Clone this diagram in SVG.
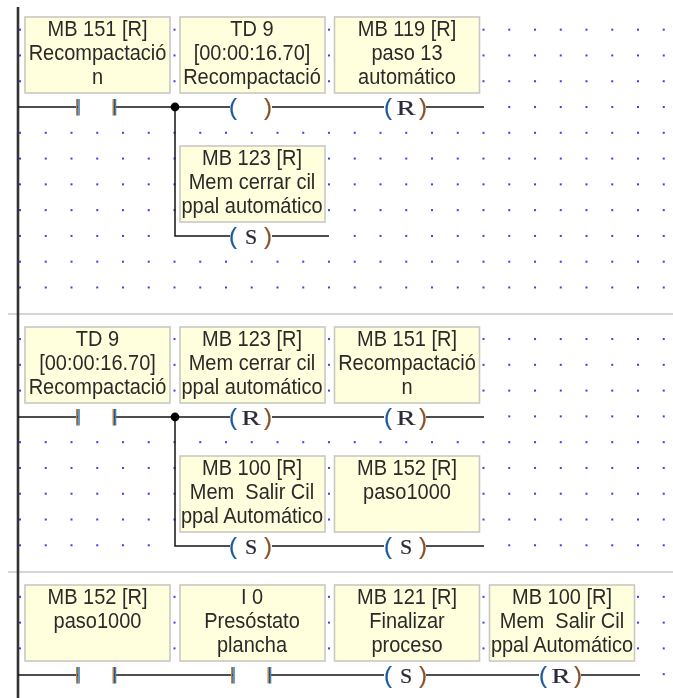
<svg xmlns="http://www.w3.org/2000/svg" width="673" height="698" viewBox="0 0 673 698">
<style>
.box{fill:#ffffdd;stroke:#c8c8c4;stroke-width:1.6}
.t{font-family:"Liberation Sans",Arial,sans-serif;font-size:21.5px;fill:#2a2a2a;text-anchor:middle;filter:url(#soft)}
.w{stroke:#151515;stroke-width:1.5;fill:none}
.c{font-family:"Liberation Serif",serif;font-size:22px;fill:#2a2a3a;stroke:#2a2a3a;stroke-width:.2;text-anchor:middle;filter:url(#soft)}
.pl,.pr{font-family:"Liberation Sans",sans-serif;font-size:24px;text-anchor:middle;stroke-width:.2;filter:url(#soft)}
.pl{fill:#1a5a9c;stroke:#1a5a9c}
.pr{fill:#8a5024;stroke:#8a5024}
.sep{stroke:#d6d6d2;stroke-width:2}
</style>
<defs>
<filter id="soft" x="-5%" y="-5%" width="110%" height="110%"><feGaussianBlur stdDeviation="0.35"/></filter>
<pattern id="g" x="19" y="2.9" width="25.75" height="25.78" patternUnits="userSpaceOnUse"><rect x="0" y="0" width="2" height="2" fill="#3c3cf0"/></pattern>
<g id="contact"><rect x="-20" y="-8" width="1.4" height="16.500" fill="#c8842c"/><rect x="-18.600" y="-8" width="1" height="16.500" fill="#334"/><rect x="-17.600" y="-8" width="1.400" height="16.500" fill="#3088d0"/><rect x="16.500" y="-8" width="1.400" height="16.500" fill="#c8842c"/><rect x="17.900" y="-8" width="1" height="16.500" fill="#334"/><rect x="18.900" y="-8" width="1.400" height="16.500" fill="#3088d0"/></g>
</defs>
<rect width="673" height="698" fill="#fff"/>
<rect x="19" y="25" width="654" height="270" fill="url(#g)"/>
<rect x="19" y="335" width="654" height="220" fill="url(#g)"/>
<rect x="19" y="593" width="654" height="90" fill="url(#g)"/>
<path fill="#fff" d="M19 104H490V110H19ZM170 233H335V239H170ZM19 414H490V420H19ZM170 543H490V549H170ZM19 672H645V678H19Z"/>
<path class="sep" d="M8 314H673M8 572H673"/>
<g id="connectors">
<path d="M18 7V698" stroke="#333" stroke-width="2.6" fill="none"/>
<path class="w" d="M18 107H78M114 107H230M272 107H384M426 107H484M175 107V236H230M272 236H329"/>
<path class="w" d="M18 417H78M114 417H230M272 417H384M426 417H484M175 417V546H230M272 546H384M426 546H484"/>
<path class="w" d="M18 675H78M114 675H233M269 675H384M426 675H539M581 675H640"/>
<circle cx="175" cy="107" r="4.400" fill="#000"/><circle cx="175" cy="417" r="4.400" fill="#000"/>
</g>
<g id="c1"><use href="#contact" x="96" y="107"/></g>
<g id="c2"><use href="#contact" x="96" y="417"/></g>
<g id="c3"><use href="#contact" x="96" y="675"/></g>
<g id="c4"><use href="#contact" x="251" y="675"/></g>
<g id="n1"><rect class="box" x="25" y="17" width="145" height="76"/><g transform="translate(97.500 0) scale(.93 1)"><text class="t" x="0" y="36.500">MB 151 [R]</text><text class="t" x="0" y="60.500">Recompactació</text><text class="t" x="0" y="84.500">n</text></g></g>
<g id="n2"><rect class="box" x="180" y="17" width="145" height="76"/><g transform="translate(252 0) scale(.93 1)"><text class="t" x="0" y="36.500">TD 9</text><text class="t" x="0" y="60.500">[00:00:16.70]</text><text class="t" x="0" y="84.500">Recompactació</text></g></g>
<g id="n3"><rect class="box" x="334.500" y="17" width="145" height="76"/><g transform="translate(407 0) scale(.93 1)"><text class="t" x="0" y="36.500">MB 119 [R]</text><text class="t" x="0" y="60.500">paso 13</text><text class="t" x="0" y="84.500">automático</text></g></g>
<g id="n4"><rect class="box" x="180" y="146" width="145" height="76"/><g transform="translate(252 0) scale(.93 1)"><text class="t" x="0" y="165.500">MB 123 [R]</text><text class="t" x="0" y="189.500">Mem cerrar cil</text><text class="t" x="0" y="213.500">ppal automático</text></g></g>
<g id="n5"><rect class="box" x="25" y="327" width="145" height="76"/><g transform="translate(97.500 0) scale(.93 1)"><text class="t" x="0" y="346.500">TD 9</text><text class="t" x="0" y="370.500">[00:00:16.70]</text><text class="t" x="0" y="394.500">Recompactació</text></g></g>
<g id="n6"><rect class="box" x="180" y="327" width="145" height="76"/><g transform="translate(252 0) scale(.93 1)"><text class="t" x="0" y="346.500">MB 123 [R]</text><text class="t" x="0" y="370.500">Mem cerrar cil</text><text class="t" x="0" y="394.500">ppal automático</text></g></g>
<g id="n7"><rect class="box" x="334.500" y="327" width="145" height="76"/><g transform="translate(407 0) scale(.93 1)"><text class="t" x="0" y="346.500">MB 151 [R]</text><text class="t" x="0" y="370.500">Recompactació</text><text class="t" x="0" y="394.500">n</text></g></g>
<g id="n8"><rect class="box" x="180" y="456" width="145" height="76"/><g transform="translate(252 0) scale(.93 1)"><text class="t" x="0" y="475.500">MB 100 [R]</text><text class="t" x="0" y="499.500" xml:space="preserve">Mem  Salir Cil</text><text class="t" x="0" y="523.500">ppal Automático</text></g></g>
<g id="n9"><rect class="box" x="334.500" y="456" width="145" height="76"/><g transform="translate(407 0) scale(.93 1)"><text class="t" x="0" y="475.500">MB 152 [R]</text><text class="t" x="0" y="499.500">paso1000</text></g></g>
<g id="n10"><rect class="box" x="25" y="585" width="145" height="76"/><g transform="translate(97.500 0) scale(.93 1)"><text class="t" x="0" y="604.500">MB 152 [R]</text><text class="t" x="0" y="628.500">paso1000</text></g></g>
<g id="n11"><rect class="box" x="180" y="585" width="145" height="76"/><g transform="translate(252 0) scale(.93 1)"><text class="t" x="0" y="604.500">I 0</text><text class="t" x="0" y="628.500">Presóstato</text><text class="t" x="0" y="652.500">plancha</text></g></g>
<g id="n12"><rect class="box" x="334.500" y="585" width="145" height="76"/><g transform="translate(407 0) scale(.93 1)"><text class="t" x="0" y="604.500">MB 121 [R]</text><text class="t" x="0" y="628.500">Finalizar</text><text class="t" x="0" y="652.500">proceso</text></g></g>
<g id="n13"><rect class="box" x="489.500" y="585" width="145" height="76"/><g transform="translate(562 0) scale(.93 1)"><text class="t" x="0" y="604.500">MB 100 [R]</text><text class="t" x="0" y="628.500" xml:space="preserve">Mem  Salir Cil</text><text class="t" x="0" y="652.500">ppal Automático</text></g></g>
<g id="coil1"><text class="pl" x="233" y="115">(</text><text class="pr" x="268" y="115">)</text></g>
<g id="coil2"><text class="pl" x="388" y="115">(</text><text class="pr" x="423" y="115">)</text><text class="c" x="406" y="114.500" textLength="19" lengthAdjust="spacingAndGlyphs">R</text></g>
<g id="coil3"><text class="pl" x="233" y="244">(</text><text class="pr" x="268" y="244">)</text><text class="c" x="251" y="243.500">S</text></g>
<g id="coil4"><text class="pl" x="233" y="425">(</text><text class="pr" x="268" y="425">)</text><text class="c" x="251" y="424.500" textLength="19" lengthAdjust="spacingAndGlyphs">R</text></g>
<g id="coil5"><text class="pl" x="388" y="425">(</text><text class="pr" x="423" y="425">)</text><text class="c" x="406" y="424.500" textLength="19" lengthAdjust="spacingAndGlyphs">R</text></g>
<g id="coil6"><text class="pl" x="233" y="554">(</text><text class="pr" x="268" y="554">)</text><text class="c" x="251" y="553.500">S</text></g>
<g id="coil7"><text class="pl" x="388" y="554">(</text><text class="pr" x="423" y="554">)</text><text class="c" x="406" y="553.500">S</text></g>
<g id="coil8"><text class="pl" x="388" y="683">(</text><text class="pr" x="423" y="683">)</text><text class="c" x="406" y="682.500">S</text></g>
<g id="coil9"><text class="pl" x="543" y="683">(</text><text class="pr" x="578" y="683">)</text><text class="c" x="561" y="682.500" textLength="19" lengthAdjust="spacingAndGlyphs">R</text></g>
</svg>
